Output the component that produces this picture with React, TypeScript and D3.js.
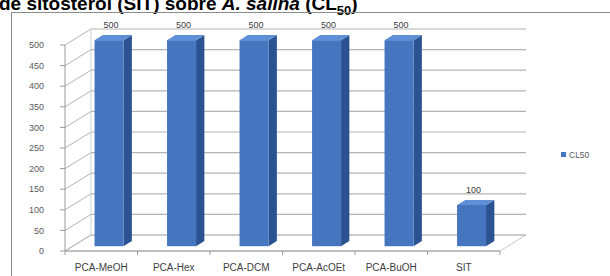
import React from "react";
import * as d3 from "d3";

const categories = ["PCA-MeOH", "PCA-Hex", "PCA-DCM", "PCA-AcOEt", "PCA-BuOH", "SIT"];
const values = [500, 500, 500, 500, 500, 100];
const yTicks = [0, 50, 100, 150, 200, 250, 300, 350, 400, 450, 500];
const seriesName = "CL50";

const W = 610;
const H = 276;
const DX = 26;
const DY = -16;

export default function App() {
  const x = d3.scaleBand<string>().domain(categories).range([65, 500]).paddingInner(0).paddingOuter(0);
  const y = d3.scaleLinear().domain([0, 500]).range([251, 45]);
  const bw = x.bandwidth();
  const barW = 29;
  const f0 = 0.3;
  const f1 = 0.62;
  const font = "'Liberation Sans', Arial, sans-serif";

  const floor = [
    [65, y(0)],
    [500, y(0)],
    [500 + DX, y(0) + DY],
    [65 + DX, y(0) + DY],
  ];

  return (
    <svg width={W} height={H} style={{ position: "absolute", left: 0, top: 0 }} fontFamily={font}>
      <rect x={0} y={0} width={W} height={H} fill="#fff" />
      {/* title (cropped) */}
      <text x={-1} y={10} fontSize={19} fontWeight="bold" fill="#000" fontFamily="'Liberation Sans', Arial, sans-serif">
        de sitosterol (SIT) sobre <tspan fontStyle="italic">A. salina</tspan> (CL
        <tspan fontSize={13} dy={5}>50</tspan>
        <tspan dy={-5}>)</tspan>
      </text>
      {/* chart border */}
      <rect x={11.5} y={12.5} width={640} height={300} fill="none" stroke="#8c8c8c" strokeWidth={1} />

      {/* floor */}
      <polygon points={floor.map((p) => p.join(",")).join(" ")} fill="none" stroke="#c8c8c8" strokeWidth={1} />
      {/* back wall gridlines */}
      {yTicks.map((t) => (
        <g key={"g" + t}>
          <line x1={65 + DX} x2={500 + DX} y1={y(t) + DY} y2={y(t) + DY} stroke="#b4b4b4" strokeWidth={1.2} />
          <line x1={65} x2={65 + DX} y1={y(t)} y2={y(t) + DY} stroke="#b4b4b4" strokeWidth={1} />
        </g>
      ))}
      <line x1={65 + DX} x2={65 + DX} y1={y(0) + DY} y2={y(500) + DY} stroke="#d0d0d0" strokeWidth={1} />
      {/* y axis */}
      <line x1={65} x2={65} y1={y(0)} y2={y(500)} stroke="#9a9a9a" strokeWidth={1} />
      {yTicks.map((t) => (
        <g key={"t" + t}>
          <line x1={60} x2={65} y1={y(t)} y2={y(t)} stroke="#9a9a9a" strokeWidth={1} />
          <text x={44} y={y(t)} dy="0.35em" textAnchor="end" fontSize={9} fill="#595959">
            {t}
          </text>
        </g>
      ))}
      {/* x axis */}
      <line x1={65} x2={500} y1={y(0)} y2={y(0)} stroke="#9a9a9a" strokeWidth={1} />
      {categories.map((c, i) => (
        <line key={"xt" + c} x1={x(c)! + bw} x2={x(c)! + bw} y1={y(0)} y2={y(0) + 4} stroke="#9a9a9a" strokeWidth={1} />
      ))}
      <line x1={65} x2={65} y1={y(0)} y2={y(0) + 4} stroke="#9a9a9a" strokeWidth={1} />

      {/* bars */}
      {categories.map((c, i) => {
        const v = values[i];
        const cx = x(c)! + bw / 2 + DX * f0;
        const x0 = cx - barW / 2;
        const x1 = cx + barW / 2;
        const yb = y(0) + DY * f0;
        const yt = y(v) + DY * f0;
        const ddx = DX * (f1 - f0);
        const ddy = DY * (f1 - f0);
        return (
          <g key={"b" + c}>
            <polygon
              points={`${x1},${yt} ${x1 + ddx},${yt + ddy} ${x1 + ddx},${yb + ddy} ${x1},${yb}`}
              fill="#2c5391"
            />
            <polygon
              points={`${x0},${yt} ${x1},${yt} ${x1 + ddx},${yt + ddy} ${x0 + ddx},${yt + ddy}`}
              fill="#5f8fd6"
            />
            <rect x={x0} y={yt} width={barW} height={yb - yt} fill="#4676c0" />
            <text x={cx + 2} y={y(v) + DY - 1} textAnchor="middle" fontSize={9} fill="#404040">
              {v}
            </text>
          </g>
        );
      })}

      {/* category labels */}
      {categories.map((c) => (
        <text key={"l" + c} x={x(c)! + bw / 2} y={271} textAnchor="middle" fontSize={10} fill="#404040">
          {c}
        </text>
      ))}

      {/* legend */}
      <rect x={561} y={152} width={5} height={5} fill="#4676c0" />
      <text x={569} y={155} dy="0.35em" fontSize={8.5} fill="#595959">
        {seriesName}
      </text>
    </svg>
  );
}
